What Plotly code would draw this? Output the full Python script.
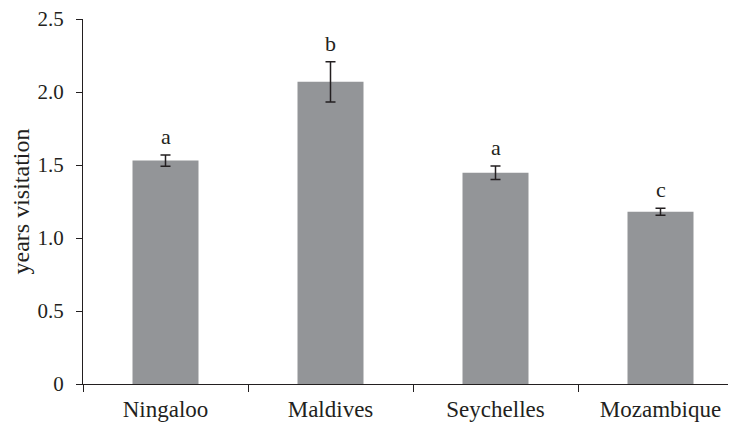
import plotly.graph_objects as go

categories = ["Ningaloo", "Maldives", "Seychelles", "Mozambique"]
values = [1.53, 2.07, 1.447, 1.18]
errors = [0.038, 0.138, 0.047, 0.024]
letters = ["a", "b", "a", "c"]
ytick_vals = [0, 0.5, 1.0, 1.5, 2.0, 2.5]
ytick_text = ["0", "0.5", "1.0", "1.5", "2.0", "2.5"]

FONT = "Liberation Serif, Times New Roman, serif"
DARK = "#231f20"

# page body has an 8px margin; size the figure so the plot sits where the reference has it
fig = go.Figure()
fig.add_trace(go.Bar(
    x=categories, y=values, width=0.4,
    marker=dict(color="#939598", line=dict(width=0)),
    error_y=dict(type="data", array=errors, visible=True, color=DARK, thickness=1.5, width=5),
))

for c, v, e, l in zip(categories, values, errors, letters):
    fig.add_annotation(x=c, y=v + e, text=l, showarrow=False, yanchor="bottom", yshift=4,
                       font=dict(family=FONT, size=22, color=DARK))

fig.update_layout(
    width=728, height=415,
    margin=dict(l=75, r=0, t=11, b=39, autoexpand=False),
    plot_bgcolor="white", paper_bgcolor="white",
    showlegend=False,
    font=dict(family=FONT, size=21, color=DARK),
)
fig.update_xaxes(
    range=[-0.5, -0.5 + 653 / 165], showgrid=False, showline=True, linecolor=DARK, linewidth=1,
    ticks="outside", tickson="boundaries", ticklen=7, tickcolor=DARK, tickwidth=1,
    ticklabelstandoff=4, tickfont=dict(family=FONT, size=23, color=DARK), automargin=False,
)
fig.update_yaxes(
    range=[0, 2.5], showgrid=False, showline=True, linecolor=DARK, linewidth=1,
    ticks="outside", ticklen=6, tickcolor=DARK, tickwidth=1,
    tickvals=ytick_vals, ticktext=ytick_text, ticklabelstandoff=8, ticklabeloverflow="allow",
    tickfont=dict(family=FONT, size=21, color=DARK), zeroline=False, automargin=False,
    title=dict(text="years visitation", font=dict(family=FONT, size=24, color=DARK), standoff=10),
)

fig.write_html("out.html")
